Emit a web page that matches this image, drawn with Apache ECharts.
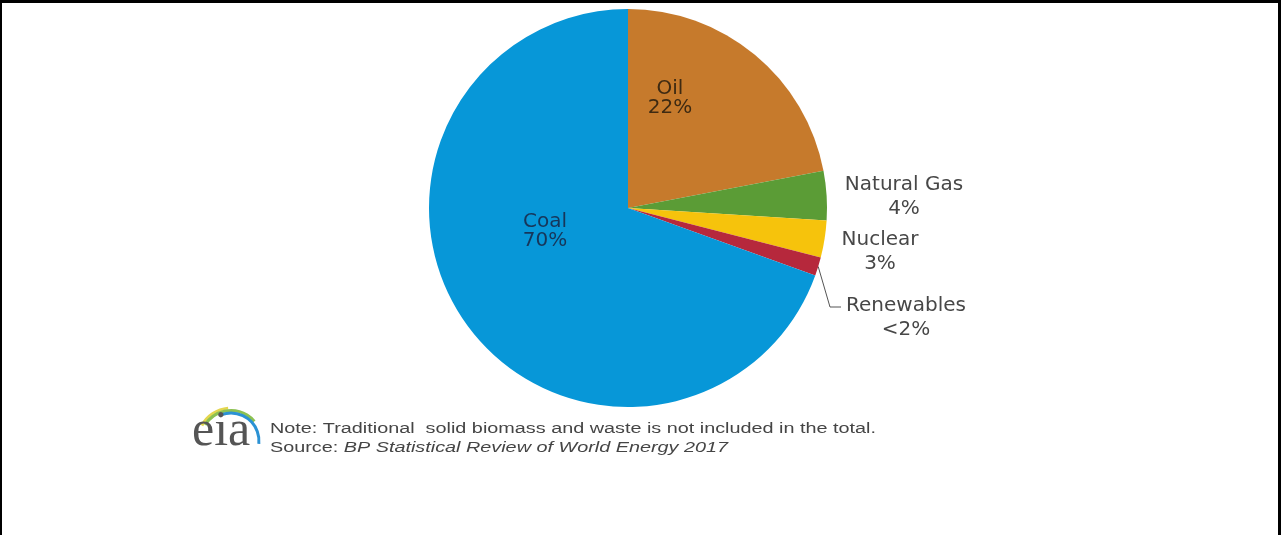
<!DOCTYPE html>
<html>
<head>
<meta charset="utf-8">
<script src="https://cdn.jsdelivr.net/npm/echarts@6/dist/echarts.min.js"></script>
<style>
html, body { margin: 0; padding: 0; background: #ffffff; }
#chart { position: absolute; left: 0; top: 0; width: 1281px; height: 535px; }
#frame { position: absolute; left: 0; top: 0; width: 1281px; height: 535px; box-sizing: border-box;
  border-top: 3px solid #000; border-left: 2px solid #000; border-right: 3px solid #000; pointer-events: none; }
</style>
</head>
<body>
<div id="chart"></div>
<div id="frame"></div>
<script>
// ---- data ----
const categories = ['Oil', 'Natural Gas', 'Nuclear', 'Renewables', 'Coal'];
const shareValues = [22, 4, 3, 1.5, 69.5];
const shareLabels = ['22%', '4%', '3%', '<2%', '70%'];
const noteText = 'Note: Traditional  solid biomass and waste is not included in the total.';
const sourcePrefix = 'Source: ';
const sourceTitle = 'BP Statistical Review of World Energy 2017';
const logoText = 'eia';

// ---- styles ----
const sliceColors = ['#c67a2c', '#5b9c36', '#f6c30c', '#b6283c', '#0797d8'];
const insideLabelColors = { 'Oil': '#3e2a12', 'Coal': '#17365a' };
const outsideLabelColor = '#474747';

const chart = echarts.init(document.getElementById('chart'), null, { renderer: 'canvas' });

// measure note text so it can be stretched to the reference width
const mctx = document.createElement('canvas').getContext('2d');
mctx.font = '14px "Liberation Sans", Arial, sans-serif';
const noteW = mctx.measureText(noteText).width;
const noteScale = 606 / noteW;

const insideSet = ['Oil', 'Coal'];
const pieData = categories.map((name, i) => {
  const inside = insideSet.indexOf(name) >= 0;
  return {
    name: name,
    value: shareValues[i],
    itemStyle: { color: sliceColors[i] },
    label: inside
      ? { position: 'inside', color: insideLabelColors[name], fontSize: 20, lineHeight: 19 }
      : { position: 'outside', color: outsideLabelColor, fontSize: 20, lineHeight: 24 },
    labelLine: { show: name === 'Renewables', lineStyle: { color: '#555', width: 1 } }
  };
});

// label anchor spots (center of each label block)
const labelSpots = {
  'Oil': [670, 98],
  'Coal': [545, 231],
  'Natural Gas': [904, 197],
  'Nuclear': [880, 252],
  'Renewables': [906, 318]
};

const deg = Math.PI / 180;
const option = {
  animation: false,
  backgroundColor: '#ffffff',
  textStyle: { fontFamily: '"DejaVu Sans", sans-serif' },
  series: [{
    type: 'pie',
    center: [628, 208],
    radius: 199,
    startAngle: 90,
    clockwise: true,
    avoidLabelOverlap: false,
    silent: true,
    itemStyle: { borderWidth: 0 },
    emphasis: { disabled: true },
    label: {
      show: true,
      fontFamily: '"DejaVu Sans", sans-serif',
      formatter: p => categories[p.dataIndex] + '\n' + shareLabels[p.dataIndex]
    },
    labelLine: { length: 6, length2: 6 },
    labelLayout: function (p) {
      const name = categories[p.dataIndex];
      const s = labelSpots[name];
      const res = { x: s[0], y: s[1], align: 'center', verticalAlign: 'middle' };
      if (name === 'Renewables' && p.labelLinePoints) {
        res.labelLinePoints = [p.labelLinePoints[0], [830, 307], [841, 307]];
      }
      return res;
    },
    data: pieData
  }],
  graphic: [
    // eia logo arcs
    { type: 'arc', shape: { cx: 231, cy: 441, r: 33, startAngle: -152 * deg, endAngle: -95 * deg, clockwise: true },
      style: { stroke: '#e4d64f', lineWidth: 3, fill: null } },
    { type: 'arc', shape: { cx: 231, cy: 441, r: 30.5, startAngle: -148 * deg, endAngle: -40 * deg, clockwise: true },
      style: { stroke: '#8cc152', lineWidth: 3, fill: null } },
    { type: 'arc', shape: { cx: 231, cy: 441, r: 28, startAngle: -110 * deg, endAngle: 6 * deg, clockwise: true },
      style: { stroke: '#2b92d4', lineWidth: 3, fill: null } },
    { type: 'text', x: 192, y: 457,
      style: { text: logoText, fill: '#555555', font: '50px "Liberation Serif", "Times New Roman", serif', textVerticalAlign: 'bottom' } },
    // note and source
    { type: 'text', x: 270, y: 429, scaleX: noteScale, scaleY: 1,
      style: { text: noteText, fill: '#454545', font: '14px "Liberation Sans", Arial, sans-serif', textVerticalAlign: 'middle' } },
    { type: 'text', x: 270, y: 448, scaleX: noteScale, scaleY: 1,
      style: { text: '{n|' + sourcePrefix + '}{i|' + sourceTitle + '}', fill: '#454545',
        font: '14px "Liberation Sans", Arial, sans-serif', textVerticalAlign: 'middle',
        rich: { n: { fontSize: 14, fontFamily: '"Liberation Sans", Arial, sans-serif', color: '#454545' },
                i: { fontSize: 14, fontStyle: 'italic', fontFamily: '"Liberation Sans", Arial, sans-serif', color: '#454545' } } } }
  ]
};

chart.setOption(option);
</script>
</body>
</html>
